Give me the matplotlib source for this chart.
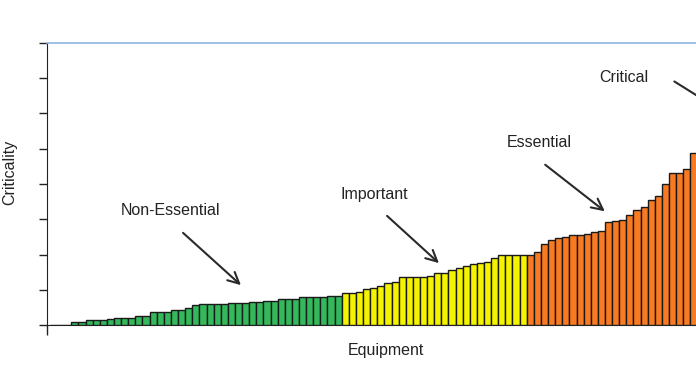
import matplotlib
matplotlib.use("Agg")
import matplotlib.pyplot as plt

plt.rcParams['font.family'] = ['Liberation Sans', 'DejaVu Sans']

# Criticality scores (sorted ascending), grouped by class
non_essential = [0.1, 0.1, 0.1,
                 0.85, 0.85, 1.3, 1.3, 1.3, 1.7, 2.1, 2.1, 2.1, 2.5, 2.5,
                 3.7, 3.7, 3.7, 4.3, 4.3, 4.8, 5.6, 5.9, 5.9, 5.9, 5.9,
                 6.2, 6.2, 6.2, 6.4, 6.4, 6.8, 6.8, 7.5, 7.5, 7.5,
                 7.9, 7.9, 7.9, 7.9, 8.3, 8.3]
important = [9.0, 9.0, 9.4, 10.1, 10.4, 11.15, 11.9, 12.3, 13.5, 13.5, 13.5, 13.5,
             14.0, 14.7, 14.8, 15.6, 16.2, 16.6, 17.3, 17.6, 17.9, 18.95,
             19.95, 19.95, 19.95, 19.95]
essential = [19.95, 20.6, 23.0, 24.2, 24.6, 25.1, 25.5, 25.5, 25.8, 26.3, 26.55,
             29.3, 29.6, 29.9, 31.2, 32.6, 33.4, 35.5, 36.5, 40.0, 43.2, 43.2,
             44.3, 48.7]

groups = [(non_essential, '#34b85c'), (important, '#f4f400'), (essential, '#f87a22')]

W, H = 696, 380
fig = plt.figure(figsize=(W / 100, H / 100), dpi=100)
ax_left_px, ax_right_px = 46.7, 720
ax_bottom_px, ax_top_px = 55, 337
ax = fig.add_axes([ax_left_px / W, ax_bottom_px / H,
                   (ax_right_px - ax_left_px) / W, (ax_top_px - ax_bottom_px) / H])

start = 0
for vals, col in groups:
    xs = list(range(start, start + len(vals)))
    ax.bar(xs, vals, width=1.0, color=col, edgecolor='#1a1a1a', linewidth=1.0, zorder=3)
    start += len(vals)

unit_px = 7.115
xmin = -0.5 - 3.3 / unit_px
xmax = xmin + (ax_right_px - ax_left_px) / unit_px
ax.set_xlim(xmin, xmax)
ax.set_ylim(0, 80)

ax.set_yticks(range(0, 81, 10))
ax.set_yticklabels([])
ax.tick_params(axis='y', direction='out', length=6, width=1, color='#222222')
ax.set_xticks([xmin])
ax.set_xticklabels([])
ax.tick_params(axis='x', direction='out', length=7, width=1, color='#222222')

ax.spines['right'].set_visible(False)
ax.spines['top'].set_color('#8eb4e3')
ax.spines['top'].set_linewidth(1.2)
ax.spines['left'].set_color('#222222')
ax.spines['bottom'].set_color('#222222')

fs = 11.5
tc = '#222222'
fig.text(10 / W, 1 - 172 / H, 'Criticality', rotation=90, ha='center', va='center',
         fontsize=fs, color=tc)
fig.text(386 / W, 1 - 351 / H, 'Equipment', ha='center', va='center', fontsize=fs, color=tc)

notes = [
    ('Non-Essential', (170, 210), (181, 231), (243, 287)),
    ('Important', (374, 194), (385, 214), (441, 265)),
    ('Essential', (539, 142), (543, 163), (607, 213)),
    ('Critical', (624, 78), (672, 80), (720, 110)),
]
for label, tpos, a0, a1 in notes:
    fig.text(tpos[0] / W, 1 - tpos[1] / H, label, ha='center', va='center',
             fontsize=fs, color=tc)
    ax.annotate('', xy=(a1[0], H - a1[1]), xycoords='figure pixels',
                xytext=(a0[0], H - a0[1]), textcoords='figure pixels',
                arrowprops=dict(arrowstyle='->,head_length=0.8,head_width=0.4',
                                color='#2a2a2a', lw=1.5),
                annotation_clip=False)

fig.savefig('out.png', dpi=100)
